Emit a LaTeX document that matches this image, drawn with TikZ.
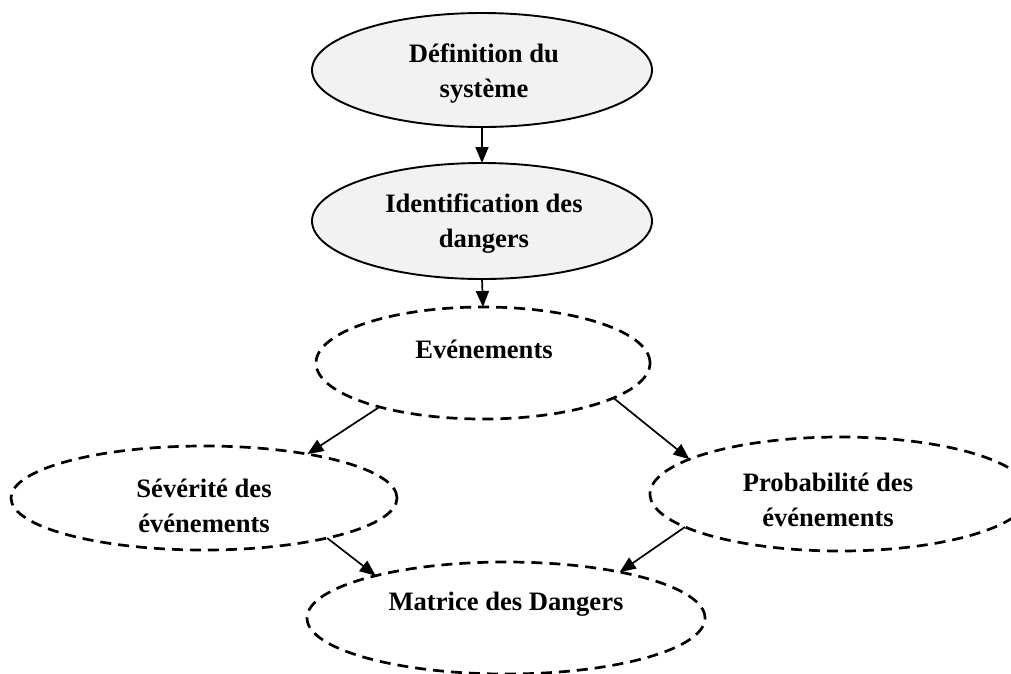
\documentclass[tikz,border=0pt]{standalone}
\usepackage{fontspec}
\setmainfont{Liberation Serif}
\usetikzlibrary{shapes.geometric,arrows.meta}
\definecolor{stagefill}{HTML}{F2F2F2}
\begin{document}
\begin{tikzpicture}[x=1pt,y=-1pt,
  solidstage/.style={ellipse, draw, fill=stagefill, line width=1.9pt,
    inner sep=0pt, outer sep=0pt},
  dashedstage/.style={ellipse, draw, dash pattern=on 11pt off 7pt,
    line width=2.7pt, inner sep=0pt, outer sep=0pt},
  stagetext/.style={font=\bfseries\fontsize{26.6}{35}\selectfont,
    align=center, inner sep=0pt},
  flow/.style={line width=1.7pt, -{Triangle[length=16pt,width=13pt]}}
]
\useasboundingbox (0,0) rectangle (1011,673);
\clip (0,0) rectangle (1011,673);

% outlines of the stages
\node[solidstage, minimum width=340pt, minimum height=114pt] (e1) at (482,70) {};
\node[solidstage, minimum width=340pt, minimum height=116pt] (e2) at (482,221) {};
\node[dashedstage, minimum width=334pt, minimum height=112pt] (e3) at (483,363) {};
\node[dashedstage, minimum width=386pt, minimum height=104pt] (e4) at (204,498) {};
\node[dashedstage, minimum width=380pt, minimum height=114pt] (e5) at (840,494) {};
\node[dashedstage, minimum width=398pt, minimum height=112pt] (e6) at (506,618) {};

% labels
\node[stagetext] (t1) at (484,74) {Définition du\\système};
\node[stagetext] (t2) at (484,224) {Identification des\\dangers};
\node[stagetext, anchor=base] (t3) at (484,358) {Evénements};
\node[stagetext] (t4) at (204,506) {Sévérité des\\événements};
\node[stagetext] (t5) at (828,500) {Probabilité des\\événements};
\node[stagetext, anchor=base] (t6) at (506,610) {Matrice des Dangers};

% connectors
\draw[flow] (e1.south) -- (e2.north);
\draw[flow] (e2.south) -- (e3.north);
\draw[flow] (e3.203) -- (e4.23);
\draw[flow] (e3.345) -- (e5.167);
\draw[flow] (e4.342) -- (e6.162);
\draw[flow] (e5.192) -- (e6.22);
\end{tikzpicture}
\end{document}
